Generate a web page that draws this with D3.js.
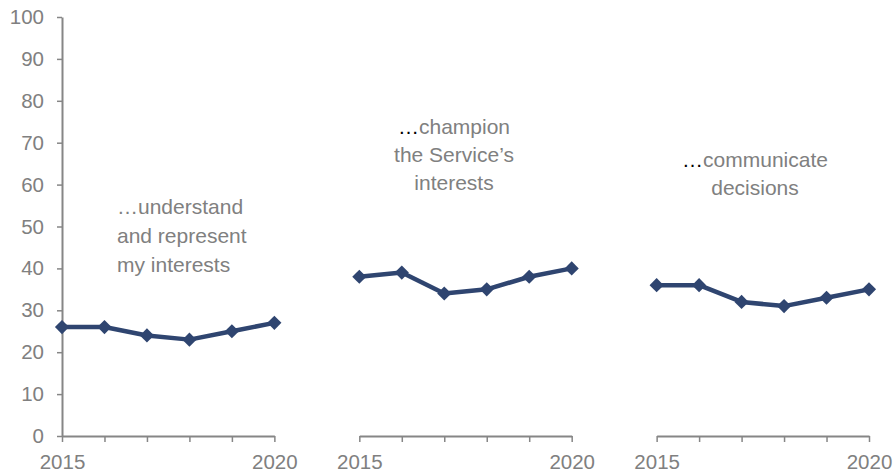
<!DOCTYPE html>
<html><head><meta charset="utf-8">
<script src="https://cdn.jsdelivr.net/npm/d3@7"></script>
<style>body{margin:0;background:#fff}svg{display:block;font-family:"Liberation Sans",Arial,sans-serif}</style>
</head><body>
<script>
const years = [2015, 2016, 2017, 2018, 2019, 2020];
const understand = [26, 26, 24, 23, 25, 27];
const champion = [38, 39, 34, 35, 38, 40];
const communicate = [36, 36, 32, 31, 33, 35];
const yTicks = [0, 10, 20, 30, 40, 50, 60, 70, 80, 90, 100];
const panelLabels = [
  ["…understand", "and represent", "my interests"],
  ["…champion", "the Service’s", "interests"],
  ["…communicate", "decisions"]
];
const series = [understand, champion, communicate];

const W = 894, H = 472;
const grey = "#868686", navy = "#2f4570", textGrey = "#808080";
const svg = d3.select("body").append("svg").attr("width", W).attr("height", H);

const y = d3.scaleLinear().domain([0, 100]).range([436, 17]);
// shared category positions: 6 years per panel, 1 empty slot between panels
const slot = d3.scaleLinear().domain([0, 19]).range([62, 869]);
const panelStart = [0, 7, 14];

// y axis
const yAxis = svg.append("g").attr("transform", "translate(62,0)")
  .call(d3.axisLeft(y).tickValues(yTicks).tickSizeInner(5).tickSizeOuter(0).tickPadding(13));
yAxis.select(".domain").attr("stroke", grey).attr("stroke-width", 2);
yAxis.selectAll(".tick line").attr("stroke", grey).attr("stroke-width", 1.5);
yAxis.selectAll(".tick text").attr("fill", textGrey).style("font-size", "20.5px");

series.forEach((vals, p) => {
  const x = d3.scaleLinear().domain([2015, 2020])
    .range([slot(panelStart[p]), slot(panelStart[p] + 5)]);
  const xAxis = svg.append("g").attr("transform", "translate(0,436)")
    .call(d3.axisBottom(x).tickValues(years).tickSizeInner(6).tickSizeOuter(0).tickPadding(12)
      .tickFormat(d => (d === 2015 || d === 2020) ? String(d) : ""));
  xAxis.select(".domain").attr("stroke", grey).attr("stroke-width", 2);
  xAxis.selectAll(".tick line").attr("stroke", grey).attr("stroke-width", 1.5);
  xAxis.selectAll(".tick text").attr("fill", textGrey).style("font-size", "20.5px");

  const data = years.map((yr, i) => ({ yr, v: vals[i] }));
  svg.append("path").datum(data)
    .attr("fill", "none").attr("stroke", navy).attr("stroke-width", 4.5)
    .attr("stroke-linejoin", "round")
    .attr("d", d3.line().x(d => x(d.yr)).y(d => y(d.v)));
  svg.selectAll(null).data(data).enter().append("path")
    .attr("d", d3.symbol().type(d3.symbolSquare).size(100))
    .attr("fill", navy)
    .attr("transform", d => `translate(${x(d.yr)},${y(d.v)}) rotate(45)`);
});

// annotations
const annot = [
  { x: 117, anchor: "start", y0: 214, dy: 29, dark: false },
  { x: 454, anchor: "middle", y0: 134, dy: 28, dark: true },
  { x: 755, anchor: "middle", y0: 167, dy: 28, dark: true }
];
annot.forEach((a, p) => {
  const t = svg.append("text").attr("text-anchor", a.anchor)
    .attr("fill", textGrey).style("font-size", "21px");
  panelLabels[p].forEach((line, i) => {
    const ts = t.append("tspan").attr("x", a.x).attr("y", a.y0 + i * a.dy);
    if (i === 0 && a.dark && line.startsWith("…")) {
      ts.append("tspan").attr("fill", "#000").text("…");
      ts.append("tspan").text(line.slice(1));
    } else {
      ts.text(line);
    }
  });
});
</script>
</body></html>
